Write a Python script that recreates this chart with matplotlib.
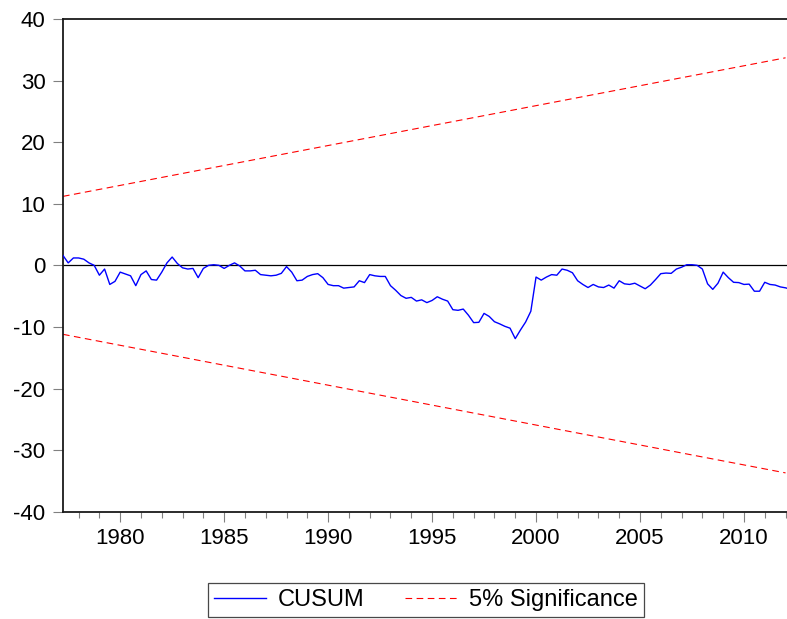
import numpy as np
import matplotlib
matplotlib.use("Agg")
import matplotlib.pyplot as plt
from matplotlib.ticker import MultipleLocator

plt.rcParams['font.family'] = ['Liberation Sans', 'DejaVu Sans']
plt.rcParams['axes.unicode_minus'] = False

# quarterly CUSUM values, first obs 1977Q2
start_year = 1977.25
cusum = [
    1.6, 0.4, 1.2, 1.2, 1.0, 0.4, 0.0, -1.6, -0.6, -3.1, -2.6, -1.1,
    -1.4, -1.7, -3.3, -1.5, -0.9, -2.3, -2.4, -1.1, 0.4, 1.35, 0.3, -0.4,
    -0.6, -0.5, -2.0, -0.5, 0.0, 0.1, 0.0, -0.5, 0.0, 0.4, -0.1, -0.9,
    -0.9, -0.8, -1.5, -1.6, -1.7, -1.6, -1.3, -0.2, -1.1, -2.5, -2.4, -1.8,
    -1.5, -1.35, -2.0, -3.1, -3.3, -3.3, -3.7, -3.6, -3.5, -2.5, -2.8, -1.5,
    -1.7, -1.8, -1.8, -3.3, -4.05, -4.9, -5.35, -5.2, -5.8, -5.6, -6.05, -5.7,
    -5.1, -5.5, -5.8, -7.2, -7.3, -7.1, -8.1, -9.3, -9.25, -7.8, -8.3, -9.15,
    -9.5, -9.9, -10.2, -11.9, -10.5, -9.2, -7.45, -1.9, -2.4, -1.9, -1.5,
    -1.6, -0.6, -0.8, -1.2, -2.5, -3.1, -3.6, -3.1, -3.5, -3.6, -3.2, -3.7,
    -2.5, -3.0, -3.1, -2.9, -3.35, -3.8, -3.2, -2.3, -1.35, -1.25, -1.3, -0.6,
    -0.3, 0.1, 0.1, 0.0, -0.6, -3.0, -3.9, -2.9, -1.1, -2.0, -2.75, -2.8,
    -3.1, -3.05, -4.2, -4.2, -2.75, -3.1, -3.2, -3.5, -3.65, -3.9,
]
dates = start_year + 0.25 * np.arange(len(cusum))

# 5% significance bounds (end points)
bound_x = [1977.25, 2012.0]
upper = [11.2, 33.7]
lower = [-11.2, -33.7]

fig = plt.figure(figsize=(7.87, 6.19), dpi=100)
ax = fig.add_axes([63 / 787, 1 - 511.7 / 619, 1 - 63 / 787, (511.7 - 19) / 619])

ax.axhline(0, color='black', lw=0.9, zorder=1)
ax.plot(dates, cusum, color='#0000ff', lw=1.0, label='CUSUM', zorder=3)
ax.plot(bound_x, upper, color='#ff0000', lw=0.8, dashes=(6, 4), label='5% Significance', zorder=2)
ax.plot(bound_x, lower, color='#ff0000', lw=0.8, dashes=(6, 4), zorder=2)

ax.set_xlim(1977.25, 2012.07)
ax.set_ylim(-40, 40)
ax.xaxis.set_major_locator(MultipleLocator(5))
ax.xaxis.set_minor_locator(MultipleLocator(1))
ax.yaxis.set_major_locator(MultipleLocator(10))

for side in ['left', 'bottom', 'top']:
    ax.spines[side].set_linewidth(1.3)
    ax.spines[side].set_color('#1a1a1a')
ax.spines['right'].set_visible(False)

ax.tick_params(axis='y', which='major', length=7.2, width=0.8, color='#808080',
               labelsize=16, pad=5.5)
ax.tick_params(axis='x', which='major', length=7.2, width=0.8, color='#808080',
               labelsize=16, pad=4.5)
ax.tick_params(axis='x', which='minor', length=4.3, width=0.8, color='#808080')

leg = ax.legend(loc='center', bbox_to_anchor=(426 / 787, 1 - 600 / 619),
                bbox_transform=fig.transFigure, ncol=2, frameon=True, fancybox=False,
                fontsize=17, handlelength=2.2, handletextpad=0.5, columnspacing=1.7,
                borderpad=0.25, borderaxespad=0)
leg.get_frame().set_edgecolor('#1a1a1a')
leg.get_frame().set_linewidth(0.9)

fig.savefig('out.png', dpi=100)
